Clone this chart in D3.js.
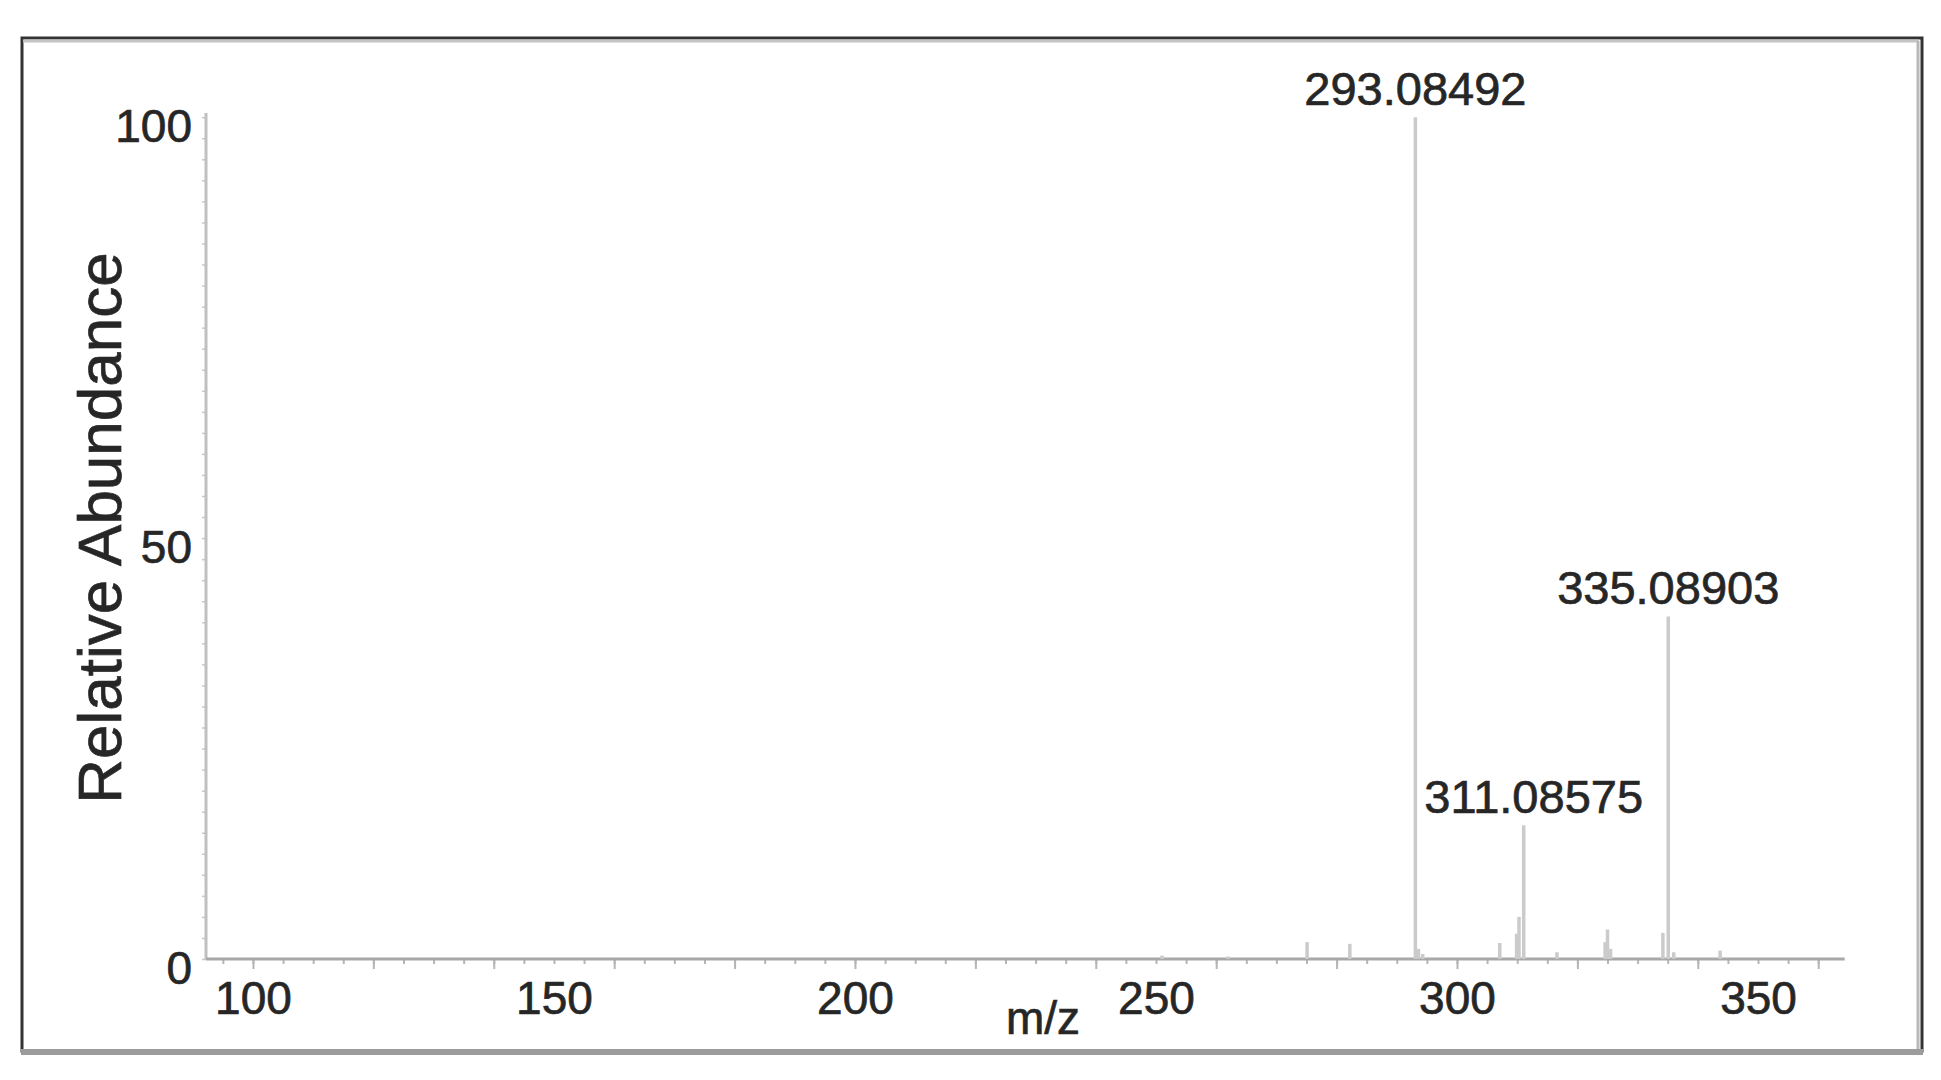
<!DOCTYPE html>
<html>
<head>
<meta charset="utf-8">
<script src="https://cdn.jsdelivr.net/npm/d3@7"></script>
<style>
  body { margin: 0; background: #fff; }
  text { font-family: "Liberation Sans", Arial, sans-serif; fill: #262626; stroke: #2a2a2a; stroke-width: 0.7px; }
</style>
</head>
<body>
<div id="viz"></div>
<script>
// spectrum sticks (m/z, relative abundance %)
const peakMz = [251.0, 262.0, 275.1, 282.2, 293.08492, 293.6, 294.3, 307.1, 309.9, 310.3,
  311.08575, 316.6, 324.6, 325.0, 325.5, 334.2, 335.08903, 336.0, 343.7];
const peakAbundance = [0.4, 0.3, 2.0, 1.8, 100, 1.2, 0.6, 1.9, 3.0, 5.0,
  15.9, 0.8, 2.0, 3.5, 1.2, 3.1, 40.7, 0.8, 1.0];

// annotated peaks
const labelMz = [293.08492, 311.08575, 335.08903];
const labelText = ["293.08492", "311.08575", "335.08903"];

const xTickLabels = [100, 150, 200, 250, 300, 350];
const yTickLabels = [0, 50, 100];

const width = 1941;
const height = 1080;

const svg = d3.select("#viz")
  .append("svg")
    .attr("width", width)
    .attr("height", height);

svg.append("rect")
  .attr("width", width).attr("height", height).attr("fill", "#fff");

// frame with the slight bevel of the original
svg.append("rect")
  .attr("x", 22).attr("y", 38).attr("width", 1900).attr("height", 1013)
  .attr("fill", "none").attr("stroke", "#333").attr("stroke-width", 3);
svg.append("line").attr("x1", 23).attr("x2", 1919).attr("y1", 41).attr("y2", 41)
  .attr("stroke", "#c4c4c4").attr("stroke-width", 3);
svg.append("line").attr("x1", 1918).attr("x2", 1918).attr("y1", 41).attr("y2", 1050)
  .attr("stroke", "#b8b8b8").attr("stroke-width", 3);
svg.append("line").attr("x1", 21).attr("x2", 1923).attr("y1", 1052).attr("y2", 1052)
  .attr("stroke", "#9c9c9c").attr("stroke-width", 6);

const x = d3.scaleLinear()
  .domain([92.2, 364.4])
  .range([206, 1844.7]);

const y = d3.scaleLinear()
  .domain([0, 100.5])
  .range([959, 113]);

const axisColor = "#a8a8a8";

// x axis: minor ticks every 5, longer every 20
const gx = svg.append("g").attr("transform", `translate(0,${y(0)})`);
gx.append("g")
  .call(d3.axisBottom(x).tickValues(d3.range(95, 364, 5)).tickSize(5).tickFormat(""))
  .call(g => g.select(".domain").remove())
  .call(g => g.selectAll("line").attr("stroke", "#b5b5b5").attr("stroke-width", 2));
gx.append("g")
  .call(d3.axisBottom(x).tickValues(d3.range(100, 364, 20)).tickSize(10).tickFormat(""))
  .call(g => g.select(".domain").remove())
  .call(g => g.selectAll("line").attr("stroke", "#b5b5b5").attr("stroke-width", 2));
gx.append("g")
  .call(d3.axisBottom(x).tickValues(xTickLabels).tickSize(0).tickFormat(d3.format("d")))
  .call(g => g.select(".domain").remove())
  .call(g => g.selectAll("text")
    .attr("y", 22).attr("dy", "0.71em")
    .attr("font-size", 46).attr("fill", "#262626"));

// y axis
const gy = svg.append("g").attr("transform", `translate(${x.range()[0]},0)`);
gy.append("g")
  .call(d3.axisLeft(y).tickValues(d3.range(0, 100.1, 2.5)).tickSize(4).tickFormat(""))
  .call(g => g.select(".domain").remove())
  .call(g => g.selectAll("line").attr("stroke", "#c8c8c8").attr("stroke-width", 1.5));
gy.append("g")
  .call(d3.axisLeft(y).tickValues(yTickLabels).tickSize(0).tickFormat(d3.format("d")))
  .call(g => g.select(".domain").remove())
  .call(g => g.selectAll("text")
    .attr("x", -14).attr("y", 10)
    .attr("font-size", 46).attr("fill", "#262626"));

// axis lines
svg.append("line")
  .attr("x1", x.range()[0]).attr("x2", x.range()[0])
  .attr("y1", y(0)).attr("y2", y.range()[1])
  .attr("stroke", "#c0c0c0").attr("stroke-width", 3);
svg.append("line")
  .attr("x1", x.range()[0]).attr("x2", x.range()[1])
  .attr("y1", y(0)).attr("y2", y(0))
  .attr("stroke", axisColor).attr("stroke-width", 3);

// peaks
const peaks = peakMz.map((mz, i) => ({ mz, ab: peakAbundance[i] }));
svg.append("g")
  .selectAll("line")
  .data(peaks)
  .join("line")
    .attr("x1", d => x(d.mz)).attr("x2", d => x(d.mz))
    .attr("y1", y(0)).attr("y2", d => y(d.ab))
    .attr("stroke", "#cbcbcb")
    .attr("stroke-width", 3.5);

// peak labels, nudged right when they would cross a taller peak line on the left
const labels = labelMz.map((mz, i) => ({
  mz, text: labelText[i], ab: peakAbundance[peakMz.indexOf(mz)]
}));
svg.append("g")
  .selectAll("text")
  .data(labels)
  .join("text")
    .attr("text-anchor", "middle")
    .attr("font-size", 47)
    .attr("x", d => x(d.mz))
    .attr("y", d => y(d.ab) - 12)
    .text(d => d.text)
    .each(function (d) {
      const box = this.getBBox();
      const taller = labels.filter(o => o.mz < d.mz && o.ab > d.ab);
      taller.forEach(o => {
        const lx = x(o.mz) + 9;
        if (box.x < lx && box.x + box.width > lx) {
          d3.select(this).attr("x", x(d.mz) + (lx - box.x));
        }
      });
    });

// axis titles
svg.append("text")
  .attr("x", 1043).attr("y", 1034)
  .attr("text-anchor", "middle")
  .attr("font-size", 46)
  .text("m/z");

svg.append("text")
  .attr("transform", "translate(121,528) rotate(-90)")
  .attr("text-anchor", "middle")
  .attr("font-size", 62)
  .text("Relative Abundance");
</script>
</body>
</html>
